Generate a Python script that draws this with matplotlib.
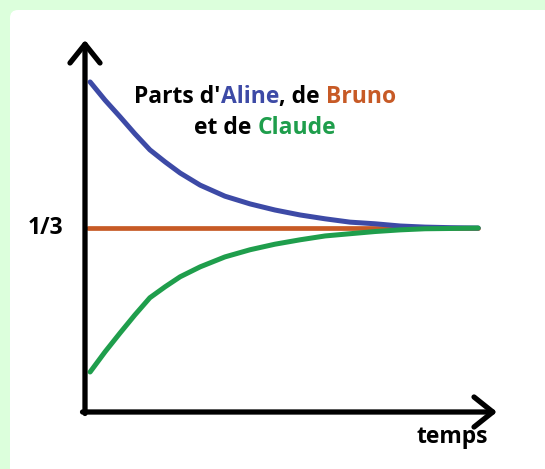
import matplotlib
matplotlib.use("Agg")
import matplotlib.pyplot as plt
from matplotlib.patches import FancyBboxPatch

# time values and shares
t = [0.13, 0.51, 0.89, 1.27, 1.65, 2.04, 2.42, 2.93, 3.56, 4.20,
     4.83, 5.47, 6.11, 6.74, 7.38, 8.02, 8.65, 9.29, 10.0]
aline = [0.598, 0.565, 0.535, 0.504, 0.475, 0.453, 0.433, 0.411, 0.391, 0.377,
         0.366, 0.357, 0.350, 0.344, 0.341, 0.337, 0.335, 0.334, 0.3333]
claude = [0.0725, 0.109, 0.143, 0.176, 0.207, 0.227, 0.245, 0.263, 0.281, 0.294,
          0.304, 0.312, 0.319, 0.323, 0.327, 0.330, 0.332, 0.3325, 0.3333]
bruno_t = [0.08, 10.0]
bruno = [1 / 3, 1 / 3]

BLUE = "#3d4aa6"
ORANGE = "#c75a26"
GREEN = "#1f9e4c"

plt.rcParams["font.family"] = ["Open Sans", "DejaVu Sans"]

W, H = 545, 469
fig = plt.figure(figsize=(5.45, 4.69), dpi=100)
fig.patch.set_facecolor("#dcffdc")

# white rounded panel behind everything
bg = fig.add_axes([0, 0, 1, 1], zorder=-10)
bg.set_axis_off()
bg.set_xlim(0, W)
bg.set_ylim(H, 0)
bg.add_patch(FancyBboxPatch((10, 10), W + 40, H + 40,
                            boxstyle="round,pad=0,rounding_size=8",
                            facecolor="white", edgecolor="none"))

ax = fig.add_axes([85 / W, (H - 412) / H, (497 - 85) / W, (412 - 40) / H])
ax.set_xlim(0, 10.48)
ax.set_ylim(0, 0.674)
ax.patch.set_alpha(0)
for s in ax.spines.values():
    s.set_visible(False)
ax.set_xticks([])
ax.set_yticks([])

ax.plot(bruno_t, bruno, color=ORANGE, lw=3.4, solid_capstyle="round", zorder=2)
ax.plot(t, aline, color=BLUE, lw=3.6, solid_capstyle="round",
        solid_joinstyle="round", zorder=3)
ax.plot(t, claude, color=GREEN, lw=3.6, solid_capstyle="round",
        solid_joinstyle="round", zorder=3)

arrow = dict(arrowstyle="->,head_length=0.75,head_width=0.6", lw=3.8,
             color="black", mutation_scale=18, shrinkA=0, shrinkB=0)
ax.annotate("", xy=(0, 1.0), xytext=(0, -0.004), xycoords="axes fraction",
            arrowprops=arrow)
ax.annotate("", xy=(1.0, 0), xytext=(-0.006, 0), xycoords="axes fraction",
            arrowprops=arrow)

fs = 16.5
fig.text(63 / W, 1 - 228 / H, "1/3", ha="right", va="center",
         fontsize=fs, fontweight="bold")
fig.text(452 / W, 1 - 437 / H, "temps", ha="center", va="center",
         fontsize=fs, fontweight="bold")


def colored_line(pieces, cx, cy):
    renderer = fig.canvas.get_renderer()
    texts = []
    widths = []
    for s, c in pieces:
        tx = fig.text(0, cy, s, color=c, fontsize=fs, fontweight="bold",
                      va="center", ha="left")
        widths.append(tx.get_window_extent(renderer).width)
        texts.append(tx)
    total = sum(widths)
    x = cx - total / 2
    for tx, w in zip(texts, widths):
        tx.set_x(x / W)
        x += w


colored_line([("Parts d'", "black"), ("Aline", BLUE), (", de ", "black"),
              ("Bruno", ORANGE)], 265, 1 - 97 / H)
colored_line([("et de ", "black"), ("Claude", GREEN)], 265, 1 - 128 / H)

fig.savefig("out.png", dpi=100, facecolor=fig.get_facecolor())
